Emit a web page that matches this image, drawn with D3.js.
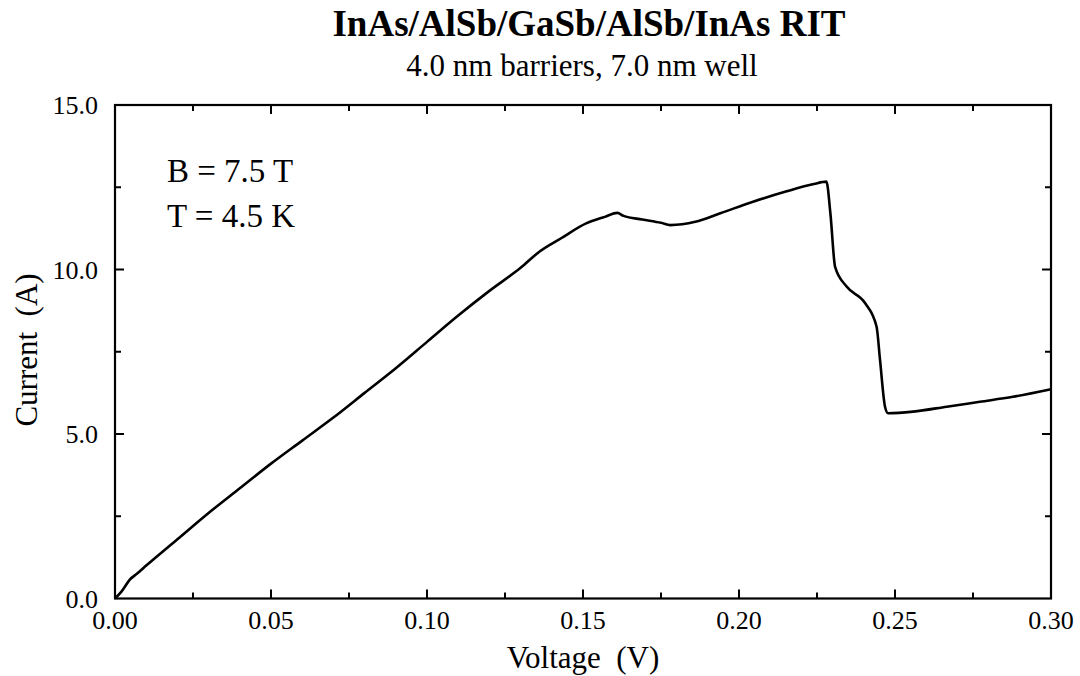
<!DOCTYPE html>
<html>
<head>
<meta charset="utf-8">
<script src="https://cdn.jsdelivr.net/npm/d3@7"></script>
<style>
body{margin:0;background:#fff;}
svg text{font-family:"Liberation Serif","Times New Roman",serif;fill:#000;}
</style>
</head>
<body>
<svg id="chart" width="1080" height="676"></svg>
<script>
const titleText = "InAs/AlSb/GaSb/AlSb/InAs RIT";
const subtitleText = "4.0 nm barriers, 7.0 nm well";
const xLabel = "Voltage  (V)";
const yLabel = "Current  (A)";
const notes = ["B = 7.5 T", "T = 4.5 K"];
const xTicks = [0, 0.05, 0.10, 0.15, 0.20, 0.25, 0.30];
const yTicks = [0, 5, 10, 15];
const voltage = [0, 0.002, 0.005, 0.007, 0.01, 0.02, 0.03, 0.04, 0.05, 0.06, 0.07, 0.08, 0.09, 0.10, 0.11, 0.12, 0.13, 0.136, 0.143, 0.151, 0.157, 0.161, 0.163, 0.169, 0.175, 0.178, 0.186, 0.194, 0.2045, 0.215, 0.224, 0.228, 0.2293, 0.2308, 0.2345, 0.2404, 0.2441, 0.2452, 0.2468, 0.2478, 0.2558, 0.2666, 0.2772, 0.2878, 0.30];
const current = [0, 0.2, 0.6, 0.75, 1.0, 1.8, 2.6, 3.35, 4.1, 4.8, 5.5, 6.25, 7.0, 7.8, 8.6, 9.35, 10.05, 10.54, 10.95, 11.40, 11.6, 11.72, 11.63, 11.52, 11.42, 11.35, 11.45, 11.71, 12.06, 12.37, 12.6, 12.67, 11.7, 10.08, 9.48, 8.98, 8.26, 7.25, 5.83, 5.63, 5.68, 5.83, 5.98, 6.13, 6.36];

const svg = d3.select("#chart");
const L = 115, R = 1051, T = 105, B = 598.5;
const x = d3.scaleLinear().domain([0, 0.30]).range([L, R]);
const y = d3.scaleLinear().domain([0, 15]).range([B, T]);

// frame
svg.append("rect").attr("x", L).attr("y", T).attr("width", R - L).attr("height", B - T)
  .attr("fill", "none").attr("stroke", "#000").attr("stroke-width", 2.2);

const xMinor = d3.range(0.025, 0.30, 0.05);
const yMinor = [2.5, 7.5, 12.5];

function ticks(g, vals, len, horiz, pos, dir) {
  vals.forEach(v => {
    if (horiz) {
      g.append("line").attr("x1", x(v)).attr("x2", x(v)).attr("y1", pos).attr("y2", pos + dir * len)
        .attr("stroke", "#000").attr("stroke-width", 2);
    } else {
      g.append("line").attr("y1", y(v)).attr("y2", y(v)).attr("x1", pos).attr("x2", pos + dir * len)
        .attr("stroke", "#000").attr("stroke-width", 2);
    }
  });
}
const tg = svg.append("g");
ticks(tg, xTicks.slice(1, -1), 9, true, B, -1);
ticks(tg, xMinor, 6, true, B, -1);
ticks(tg, xTicks.slice(1, -1), 9, true, T, 1);
ticks(tg, xMinor, 6, true, T, 1);
ticks(tg, yTicks.slice(1, -1), 9, false, L, 1);
ticks(tg, yMinor, 6, false, L, 1);
ticks(tg, yTicks.slice(1, -1), 9, false, R, -1);
ticks(tg, yMinor, 6, false, R, -1);

// tick labels
svg.append("g").selectAll("text").data(xTicks).join("text")
  .attr("x", d => x(d)).attr("y", 629).attr("text-anchor", "middle")
  .attr("font-size", 26).text(d => d.toFixed(2));
svg.append("g").selectAll("text").data(yTicks).join("text")
  .attr("x", 98).attr("y", d => y(d) + 9).attr("text-anchor", "end")
  .attr("font-size", 26).text(d => d.toFixed(1));

// axis labels
svg.append("text").attr("x", 583).attr("y", 668).attr("text-anchor", "middle")
  .attr("font-size", 31).style("white-space", "pre").text(xLabel);
svg.append("text").attr("transform", "translate(37,350) rotate(-90)").attr("text-anchor", "middle")
  .attr("font-size", 31).style("white-space", "pre").text(yLabel);

// titles
svg.append("text").attr("x", 589).attr("y", 36).attr("text-anchor", "middle")
  .attr("font-size", 37).attr("font-weight", "bold").text(titleText);
svg.append("text").attr("x", 582).attr("y", 76).attr("text-anchor", "middle")
  .attr("font-size", 31).text(subtitleText);

// notes
svg.append("g").selectAll("text").data(notes).join("text")
  .attr("x", 167).attr("y", (d, i) => 182 + i * 45).attr("font-size", 33).text(d => d);

// curve
const pts = voltage.map((v, i) => [v, current[i]]);
svg.append("path").datum(pts)
  .attr("d", d3.line().x(d => x(d[0])).y(d => y(d[1])).curve(d3.curveMonotoneX))
  .attr("fill", "none").attr("stroke", "#000").attr("stroke-width", 2.6).attr("stroke-linejoin", "round");
</script>
</body>
</html>
